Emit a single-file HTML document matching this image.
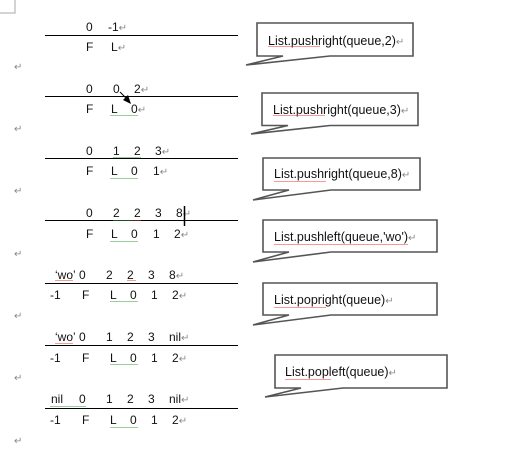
<!DOCTYPE html>
<html><head><meta charset="utf-8"><style>
html,body{margin:0;padding:0;background:#fff;}
svg{display:block;}
text{font-family:"Liberation Sans",sans-serif;font-size:12px;fill:#111;}
.c{font-size:12.5px;}
.p{fill:#888;font-size:10px;}
</style></head><body>
<svg width="514" height="451" viewBox="0 0 514 451" xmlns="http://www.w3.org/2000/svg">
<defs>
<pattern id="wg" width="4" height="3" patternUnits="userSpaceOnUse"><path d="M0 2 L1 1 L2 2 L3 1 L4 2" stroke="#3a9a3a" stroke-width="0.5" fill="none"/></pattern>
<pattern id="wr" width="4" height="3" patternUnits="userSpaceOnUse"><path d="M0 2 L1 1 L2 2 L3 1 L4 2" stroke="#e33" stroke-width="0.5" fill="none"/></pattern>
</defs>
<path d="M15 0 V13 H0" fill="none" stroke="#aaa"/>
<g stroke="#000" stroke-width="1">
<line x1="45" y1="35.5" x2="238" y2="35.5"/>
<line x1="45" y1="96.5" x2="238" y2="96.5"/>
<line x1="45" y1="158.5" x2="238" y2="158.5"/>
<line x1="45" y1="220.5" x2="238" y2="220.5"/>
<line x1="45" y1="283.5" x2="238" y2="283.5"/>
<line x1="45" y1="345.5" x2="238" y2="345.5"/>
<line x1="45" y1="408.5" x2="238" y2="408.5"/>
</g>
<text x="86" y="31">0</text><text x="108" y="31">-1<tspan class="p">↵</tspan></text>
<text x="86" y="51">F</text><text x="111" y="51">L<tspan class="p">↵</tspan></text>
<text class="p" x="14" y="70">↵</text>
<text x="86" y="93">0</text><text x="113" y="93">0</text><text x="134" y="93">2<tspan class="p">↵</tspan></text>
<text x="86" y="113">F</text><text x="111" y="113">L</text><text x="131" y="113">0<tspan class="p">↵</tspan></text>
<line x1="120" y1="92" x2="127" y2="99" stroke="#000"/><polygon points="123,100 131,104 128,95" fill="#000"/>
<text class="p" x="14" y="132">↵</text>
<text x="86" y="155">0</text><text x="113" y="155">1</text><text x="134" y="155">2</text><text x="155" y="155">3<tspan class="p">↵</tspan></text>
<text x="86" y="175">F</text><text x="111" y="175">L</text><text x="131" y="175">0</text><text x="153" y="175">1<tspan class="p">↵</tspan></text>
<text class="p" x="14" y="194">↵</text>
<text x="86" y="217">0</text><text x="113" y="217">2</text><text x="134" y="217">2</text><text x="155" y="217">3</text><text x="176" y="217">8<tspan class="p">↵</tspan></text>
<line x1="184.5" y1="206" x2="184.5" y2="226" stroke="#000" stroke-width="1.5"/>
<text x="86" y="238">F</text><text x="111" y="238">L</text><text x="131" y="238">0</text><text x="153" y="238">1</text><text x="174" y="238">2<tspan class="p">↵</tspan></text>
<text class="p" x="14" y="257">↵</text>
<text x="55" y="279">‘wo’</text><text x="79" y="279">0</text><text x="106" y="279">2</text><text x="127" y="279">2</text><text x="148" y="279">3</text><text x="169" y="279">8<tspan class="p">↵</tspan></text>
<text x="50" y="299">-1</text><text x="82" y="299">F</text><text x="110" y="299">L</text><text x="130" y="299">0</text><text x="151" y="299">1</text><text x="172" y="299">2<tspan class="p">↵</tspan></text>
<text class="p" x="14" y="319">↵</text>
<text x="55" y="341">‘wo’</text><text x="79" y="341">0</text><text x="106" y="341">1</text><text x="127" y="341">2</text><text x="148" y="341">3</text><text x="169" y="341">nil<tspan class="p">↵</tspan></text>
<text x="50" y="362">-1</text><text x="82" y="362">F</text><text x="110" y="362">L</text><text x="130" y="362">0</text><text x="151" y="362">1</text><text x="172" y="362">2<tspan class="p">↵</tspan></text>
<text class="p" x="14" y="381">↵</text>
<text x="51" y="403">nil</text><text x="79" y="403">0</text><text x="106" y="403">1</text><text x="127" y="403">2</text><text x="148" y="403">3</text><text x="169" y="403">nil<tspan class="p">↵</tspan></text>
<text x="50" y="424">-1</text><text x="82" y="424">F</text><text x="110" y="424">L</text><text x="130" y="424">0</text><text x="151" y="424">1</text><text x="172" y="424">2<tspan class="p">↵</tspan></text>
<text class="p" x="14" y="444">↵</text>
<g>
<rect x="110" y="114" width="28" height="3" fill="url(#wg)"/>
<rect x="110" y="176" width="28" height="3" fill="url(#wg)"/>
<rect x="113" y="156" width="28" height="3" fill="url(#wg)"/>
<rect x="110" y="239" width="28" height="3" fill="url(#wg)"/>
<rect x="113" y="218" width="20" height="3" fill="url(#wg)"/>
<rect x="133" y="218" width="8" height="3" fill="url(#wr)"/>
<rect x="55" y="280" width="18" height="3" fill="url(#wr)"/>
<rect x="127" y="280" width="9" height="3" fill="url(#wr)"/>
<rect x="110" y="300" width="28" height="3" fill="url(#wg)"/>
<rect x="55" y="342" width="18" height="3" fill="url(#wr)"/>
<rect x="110" y="363" width="28" height="3" fill="url(#wg)"/>
<rect x="50" y="404" width="36" height="3" fill="url(#wg)"/>
<rect x="110" y="425" width="28" height="3" fill="url(#wg)"/>
</g>
<g fill="#fff" stroke="#555" stroke-width="1.6" stroke-linejoin="miter">
<path d="M283 56 L246 65 L330 56 H413 V23 H257 V56 Z"/>
<path d="M288 125.5 L251 134 L330 125.5 H418 V93 H262 V125.5 Z"/>
<path d="M289 190 L253 200 L331 190 H420 V158 H263 V190 Z"/>
<path d="M289 252 L253 262 L331 252 H437 V220 H263 V252 Z"/>
<path d="M289 315 L253 325 L331 315 H437 V283 H263 V315 Z"/>
<path d="M301 388 L265 397 L343 388 H447 V355 H275 V388 Z"/>
</g>
<g>
<text class="c" x="268" y="45">List.pushright(queue,2)<tspan class="p">↵</tspan></text>
<rect x="268" y="46" width="52" height="3" fill="url(#wr)"/>
<text class="c" x="273" y="114">List.pushright(queue,3)<tspan class="p">↵</tspan></text>
<rect x="273" y="115" width="52" height="3" fill="url(#wr)"/>
<text class="c" x="274" y="178">List.pushright(queue,8)<tspan class="p">↵</tspan></text>
<rect x="274" y="179" width="52" height="3" fill="url(#wr)"/>
<text class="c" x="274" y="241">List.pushleft(queue,'wo')<tspan class="p">↵</tspan></text>
<rect x="274" y="242" width="134" height="3" fill="url(#wr)"/>
<text class="c" x="274" y="304">List.popright(queue)<tspan class="p">↵</tspan></text>
<rect x="274" y="305" width="52" height="3" fill="url(#wr)"/>
<text class="c" x="285" y="376">List.popleft(queue)<tspan class="p">↵</tspan></text>
<rect x="285" y="377" width="46" height="3" fill="url(#wr)"/>
</g>
</svg>
</body></html>
